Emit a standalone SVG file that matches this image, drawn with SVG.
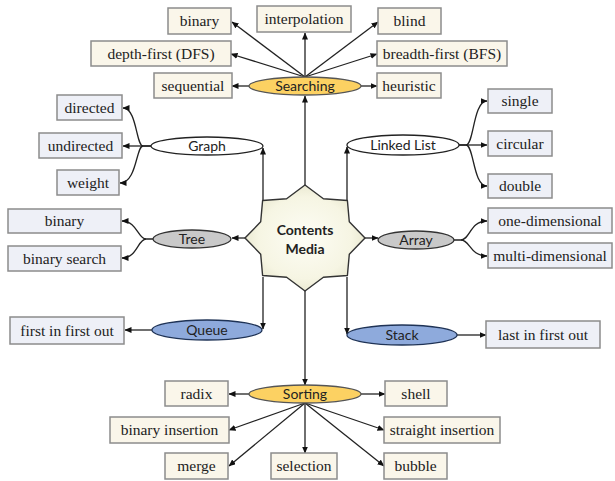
<svg xmlns="http://www.w3.org/2000/svg" width="615" height="481" viewBox="0 0 615 481">
<defs>
<marker id="ah" markerUnits="userSpaceOnUse" markerWidth="7" markerHeight="6" refX="6.5" refY="3" orient="auto">
<path d="M0,0 L7,3 L0,6 z" fill="#111"/>
</marker>
<radialGradient id="sg" cx="50%" cy="50%" r="55%">
<stop offset="0" stop-color="#fdfdf5"/>
<stop offset="0.7" stop-color="#f6f5e3"/>
<stop offset="1" stop-color="#e6e5cc"/>
</radialGradient>
</defs>
<style>
.bt{fill:#faf6ea;stroke:#8c8c8c;stroke-width:1.5}
.bs{fill:#eef0f7;stroke:#8c8c8c;stroke-width:1.5}
.tx{font-family:"Liberation Serif","DejaVu Serif",serif;font-size:15.5px;fill:#222;text-anchor:middle}
.et{font-family:Lato,"Open Sans",sans-serif;font-size:14px;fill:#222;text-anchor:middle}
.c{fill:none;stroke:#222;stroke-width:1.3;marker-end:url(#ah)}
.yel{fill:#fcd162;stroke:#555;stroke-width:1.3}
.gry{fill:#c9c9c9;stroke:#333;stroke-width:1.3}
.blu{fill:#8eaadc;stroke:#1f3356;stroke-width:1.3}
.wht{fill:#fff;stroke:#222;stroke-width:1.3}
</style>
<rect width="615" height="481" fill="#fff"/>
<g id="connectors">
<path class="c" d="M305,185 V96"/>
<path class="c" d="M305,77 L232,22"/>
<path class="c" d="M305,77 V33"/>
<path class="c" d="M305,77 L378,22"/>
<path class="c" d="M305,77 L231,54"/>
<path class="c" d="M305,77 L377,54"/>
<path class="c" d="M249,86 H232"/>
<path class="c" d="M361,86 H377"/>
<path class="c" d="M263,200 V148"/>
<path class="c" d="M151,146 H123"/>
<path class="c" d="M151,146 H143 C136,146 137,108 123,108"/>
<path class="c" d="M143,146 C136,146 137,183 120,183"/>
<path class="c" d="M245,238 H232"/>
<path class="c" d="M153,239 H146 C138,239 137,221 122,221"/>
<path class="c" d="M146,239 C138,239 137,258 122,258"/>
<path class="c" d="M347,200 V147"/>
<path class="c" d="M459,145 H487"/>
<path class="c" d="M459,145 H466 C474,145 473,101 487,101"/>
<path class="c" d="M466,145 C474,145 473,186 487,186"/>
<path class="c" d="M365,238 H378"/>
<path class="c" d="M454,240 H461 C470,240 470,221 487,221"/>
<path class="c" d="M461,240 C470,240 470,256 487,256"/>
<path class="c" d="M263,277 V329"/>
<path class="c" d="M152,330 H125"/>
<path class="c" d="M347,277 V334"/>
<path class="c" d="M457,335 H486"/>
<path class="c" d="M305,291 V385"/>
<path class="c" d="M249,394 H229"/>
<path class="c" d="M361,394 H385"/>
<path class="c" d="M305,403 L229,430"/>
<path class="c" d="M305,403 L384,430"/>
<path class="c" d="M305,403 L229,466"/>
<path class="c" d="M305,403 V453"/>
<path class="c" d="M305,403 L384,466"/>
</g>
<g id="center">
<polygon points="365,238 349.3,254.2 347.4,275.5 323.4,277.2 305,291 286.6,277.2 262.6,275.5 260.7,254.2 245,238 260.7,221.8 262.6,200.5 286.6,198.8 305,185 323.4,198.8 347.4,200.5 349.3,221.8" fill="url(#sg)" stroke="#333" stroke-width="1.4" stroke-linejoin="round"/>
<text x="305" y="235" class="et" font-weight="bold">Contents</text>
<text x="305" y="254" class="et" font-weight="bold">Media</text>
</g>
<g id="searching"><ellipse cx="305" cy="86" rx="56" ry="9" class="yel"/><text x="305" y="91" class="et">Searching</text></g>
<g id="graph"><ellipse cx="207" cy="146" rx="56" ry="9" class="wht"/><text x="207" y="151" class="et">Graph</text></g>
<g id="tree"><ellipse cx="192" cy="239" rx="39" ry="9" class="gry"/><text x="192" y="244" class="et">Tree</text></g>
<g id="queue"><ellipse cx="207" cy="330" rx="55" ry="10" class="blu"/><text x="207" y="335" class="et">Queue</text></g>
<g id="linkedlist"><ellipse cx="403" cy="145" rx="56" ry="10" class="wht"/><text x="403" y="150" class="et">Linked List</text></g>
<g id="array"><ellipse cx="416" cy="240" rx="38" ry="9" class="gry"/><text x="416" y="245" class="et">Array</text></g>
<g id="stack"><ellipse cx="402" cy="335" rx="55" ry="10" class="blu"/><text x="402" y="340" class="et">Stack</text></g>
<g id="sorting"><ellipse cx="305" cy="394" rx="56" ry="9" class="yel"/><text x="305" y="399" class="et">Sorting</text></g>
<g id="s-binary"><rect x="168" y="8" width="63" height="26" class="bt"/><text x="199.5" y="26" class="tx">binary</text></g>
<g id="s-interpolation"><rect x="257" y="6" width="94" height="26" class="bt"/><text x="304" y="24" class="tx">interpolation</text></g>
<g id="s-blind"><rect x="378" y="8" width="63" height="26" class="bt"/><text x="409.5" y="26" class="tx">blind</text></g>
<g id="s-dfs"><rect x="91" y="41" width="140" height="25" class="bt"/><text x="161" y="58.5" class="tx">depth-first (DFS)</text></g>
<g id="s-bfs"><rect x="377" y="41" width="130" height="25" class="bt"/><text x="442" y="58.5" class="tx">breadth-first (BFS)</text></g>
<g id="s-sequential"><rect x="154" y="73" width="78" height="25" class="bt"/><text x="193" y="90.5" class="tx">sequential</text></g>
<g id="s-heuristic"><rect x="377" y="73" width="64" height="25" class="bt"/><text x="409" y="90.5" class="tx">heuristic</text></g>
<g id="g-directed"><rect x="57" y="95" width="65" height="25" class="bs"/><text x="89.5" y="112.5" class="tx">directed</text></g>
<g id="g-undirected"><rect x="39" y="133" width="83" height="25" class="bs"/><text x="80.5" y="150.5" class="tx">undirected</text></g>
<g id="g-weight"><rect x="57" y="170" width="62" height="25" class="bs"/><text x="88" y="187.5" class="tx">weight</text></g>
<g id="t-binary"><rect x="8" y="209" width="113" height="24" class="bs"/><text x="64.5" y="226" class="tx">binary</text></g>
<g id="t-bsearch"><rect x="8" y="246" width="113" height="25" class="bs"/><text x="64.5" y="263.5" class="tx">binary search</text></g>
<g id="q-fifo"><rect x="10" y="317" width="114" height="27" class="bs"/><text x="67" y="335.5" class="tx">first in first out</text></g>
<g id="l-single"><rect x="488" y="89" width="64" height="24" class="bs"/><text x="520" y="106" class="tx">single</text></g>
<g id="l-circular"><rect x="488" y="131" width="64" height="25" class="bs"/><text x="520" y="148.5" class="tx">circular</text></g>
<g id="l-double"><rect x="488" y="174" width="64" height="24" class="bs"/><text x="520" y="191" class="tx">double</text></g>
<g id="a-one"><rect x="488" y="208" width="124" height="25" class="bs"/><text x="550" y="225.5" class="tx">one-dimensional</text></g>
<g id="a-multi"><rect x="488" y="243" width="124" height="25" class="bs"/><text x="550" y="260.5" class="tx">multi-dimensional</text></g>
<g id="st-lifo"><rect x="486" y="321" width="114" height="27" class="bs"/><text x="543" y="339.5" class="tx">last in first out</text></g>
<g id="o-radix"><rect x="165" y="381" width="63" height="25" class="bt"/><text x="196.5" y="398.5" class="tx">radix</text></g>
<g id="o-shell"><rect x="385" y="381" width="62" height="25" class="bt"/><text x="416" y="398.5" class="tx">shell</text></g>
<g id="o-binins"><rect x="110" y="417" width="119" height="26" class="bt"/><text x="169.5" y="435" class="tx">binary insertion</text></g>
<g id="o-strins"><rect x="384" y="417" width="116" height="26" class="bt"/><text x="442" y="435" class="tx">straight insertion</text></g>
<g id="o-merge"><rect x="165" y="453" width="63" height="26" class="bt"/><text x="196.5" y="471" class="tx">merge</text></g>
<g id="o-selection"><rect x="271" y="453" width="66" height="26" class="bt"/><text x="304" y="471" class="tx">selection</text></g>
<g id="o-bubble"><rect x="384" y="453" width="63" height="26" class="bt"/><text x="415.5" y="471" class="tx">bubble</text></g>
</svg>
